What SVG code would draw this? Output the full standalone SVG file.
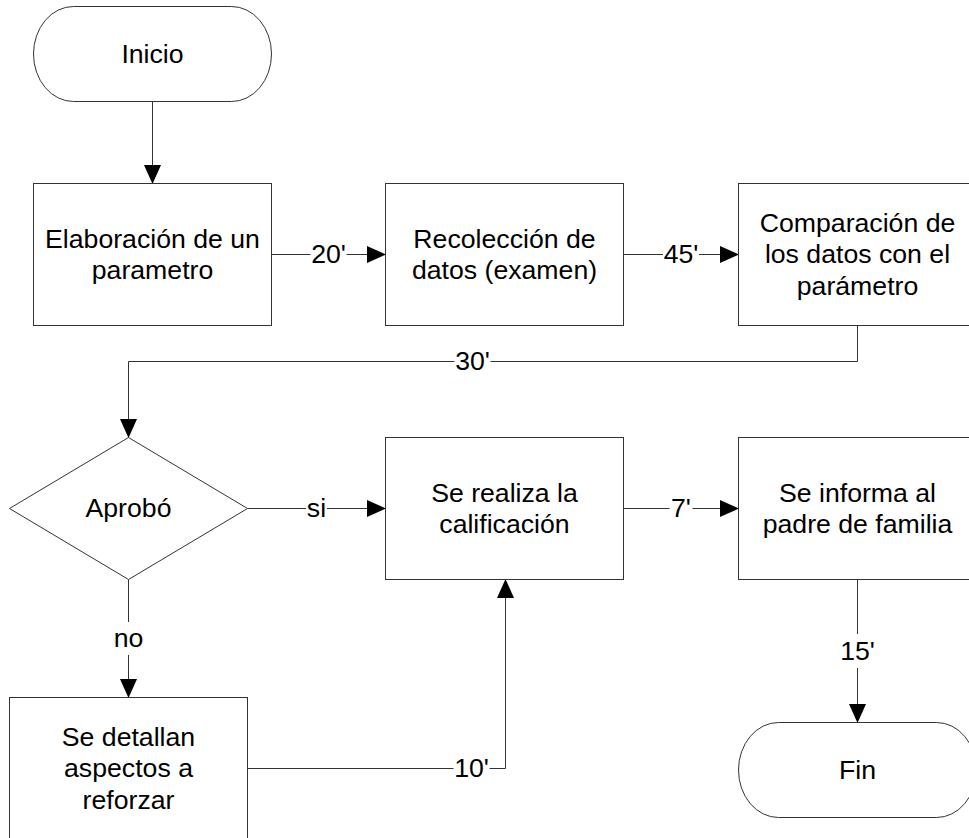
<svg xmlns="http://www.w3.org/2000/svg" width="969" height="838" viewBox="0 0 969 838">
<defs>
<style>
.shape{fill:#fff;stroke:#333;stroke-width:1}
.t{font-family:"Liberation Sans",Arial,sans-serif;font-size:26.67px;fill:#000;text-anchor:middle}
.line{fill:none;stroke:#333;stroke-width:1}
.arr{marker-end:url(#ah)}
.bg{fill:#fff;stroke:none}
</style>
<marker id="ah" markerUnits="userSpaceOnUse" markerWidth="19" markerHeight="17" refX="18.5" refY="8.5" orient="auto" viewBox="0 0 19 17">
<path d="M0,0 L19,8.5 L0,17 z" fill="#000"/>
</marker>
</defs>
<rect width="969" height="838" fill="#fff"/>

<g id="connectors">
<path class="line arr" d="M152.5,101.5 V183.5"/>
<path class="line arr" d="M271.5,254.5 H385.5"/>
<rect class="bg" x="310.5" y="244" width="36" height="20"/>
<text class="t" x="328.5" y="263">20'</text>
<path class="line arr" d="M623.5,254.5 H738.5"/>
<rect class="bg" x="663" y="244" width="36" height="20"/>
<text class="t" x="681" y="263">45'</text>
<path class="line arr" d="M857.5,325.5 V361.5 H128.5 V437.5"/>
<rect class="bg" x="454.5" y="351" width="36" height="20"/>
<text class="t" x="472.5" y="370">30'</text>
<path class="line arr" d="M247.5,508.5 H385.5"/>
<rect class="bg" x="306" y="498" width="21" height="20"/>
<text class="t" x="316.5" y="517">si</text>
<path class="line arr" d="M128.5,579.5 V697.5"/>
<rect class="bg" x="112" y="622" width="33" height="33"/>
<text class="t" x="128.5" y="647">no</text>
<path class="line arr" d="M623.5,508.5 H738.5"/>
<rect class="bg" x="669.5" y="498" width="23" height="20"/>
<text class="t" x="681" y="517">7'</text>
<path class="line arr" d="M247.5,768.5 H505.5 V579.5"/>
<rect class="bg" x="453.5" y="758" width="36" height="20"/>
<text class="t" x="471.5" y="777">10'</text>
<path class="line arr" d="M857.5,579.5 V722.5"/>
<rect class="bg" x="838" y="634" width="38" height="34"/>
<text class="t" x="857.5" y="660">15'</text>
</g>

<g id="inicio">
<rect class="shape" x="33.5" y="6.5" width="238" height="95" rx="40" ry="47.5"/>
<text class="t" x="152.5" y="63">Inicio</text>
</g>
<g id="elaboracion">
<rect class="shape" x="33.5" y="183.5" width="238" height="142"/>
<text class="t" x="152.5" y="247.5">Elaboración de un</text>
<text class="t" x="152.5" y="279">parametro</text>
</g>
<g id="recoleccion">
<rect class="shape" x="385.5" y="183.5" width="238" height="142"/>
<text class="t" x="504.5" y="247.5">Recolección de</text>
<text class="t" x="504.5" y="279">datos (examen)</text>
</g>
<g id="comparacion">
<rect class="shape" x="738.5" y="183.5" width="238" height="142"/>
<text class="t" x="857.5" y="231.5">Comparación de</text>
<text class="t" x="857.5" y="263">los datos con el</text>
<text class="t" x="857.5" y="294.5">parámetro</text>
</g>
<g id="aprobo">
<polygon class="shape" points="128.5,437.5 247.5,508.5 128.5,579.5 9.5,508.5"/>
<text class="t" x="128.5" y="517">Aprobó</text>
</g>
<g id="calificacion">
<rect class="shape" x="385.5" y="437.5" width="238" height="142"/>
<text class="t" x="504.5" y="501.5">Se realiza la</text>
<text class="t" x="504.5" y="533">calificación</text>
</g>
<g id="informa">
<rect class="shape" x="738.5" y="437.5" width="238" height="142"/>
<text class="t" x="857.5" y="501.5">Se informa al</text>
<text class="t" x="857.5" y="533">padre de familia</text>
</g>
<g id="detallan">
<rect class="shape" x="9.5" y="697.5" width="238" height="142"/>
<text class="t" x="128.5" y="745.5">Se detallan</text>
<text class="t" x="128.5" y="777">aspectos a</text>
<text class="t" x="128.5" y="808.5">reforzar</text>
</g>
<g id="fin">
<rect class="shape" x="738.5" y="722.5" width="238" height="95" rx="40" ry="47.5"/>
<text class="t" x="857.5" y="779">Fin</text>
</g>
</svg>
